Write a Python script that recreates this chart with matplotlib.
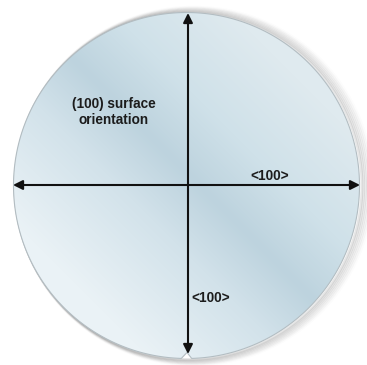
import numpy as np
import matplotlib
matplotlib.use("Agg")
import matplotlib.pyplot as plt
from matplotlib.path import Path
from matplotlib.patches import PathPatch, Circle
from matplotlib.colors import LinearSegmentedColormap

# ---- data (diagram, pixel coordinates of a 367x365 canvas) ----
wafer_center = (186.5, 185.5)
wafer_radius = 173.0
notch_depth = 6.0
h_arrow_x = [13, 360]
h_arrow_y = [185, 185]
v_arrow_x = [188, 188]
v_arrow_y = [13, 354]
labels = ["(100) surface\norientation", "<100>", "<100>"]
label_x = [114, 270, 211]
label_y = [112, 176, 298]

W, H = 367, 365
fig = plt.figure(figsize=(W / 100, H / 100), dpi=100)
ax = fig.add_axes([0, 0, 1, 1])
ax.set_xlim(0, W)
ax.set_ylim(H, 0)
ax.axis("off")

cx, cy = wafer_center
r = wafer_radius

# soft shadow on the right side
for i, a in enumerate(np.linspace(0.16, 0.02, 7)):
    ax.add_patch(Circle((cx + 2.0 + i * 0.9, cy + 0.5), r + 0.5 + i * 0.9,
                        facecolor="none", edgecolor=(0.40, 0.40, 0.40, a),
                        linewidth=2.0, zorder=1))

# wafer outline with notch
theta = np.linspace(np.pi / 2 + 0.03, np.pi / 2 + 2 * np.pi - 0.03, 600)
xs = cx + r * np.cos(theta)
ys = cy + r * np.sin(theta)
verts = list(zip(xs, ys))
verts.append((cx + 0.5, cy + r - notch_depth))
verts.append(verts[0])
codes = [Path.MOVETO] + [Path.LINETO] * (len(verts) - 2) + [Path.CLOSEPOLY]
wafer_path = Path(verts, codes)
patch = PathPatch(wafer_path, facecolor="none", edgecolor=(0.70, 0.74, 0.76),
                  linewidth=0.8, zorder=3)
ax.add_patch(patch)

# gradient fill
cmap = LinearSegmentedColormap.from_list(
    "wafer",
    [(0.0, "#eaf2f6"), (0.33, "#d2e2ea"), (0.52, "#bdd3de"),
     (0.72, "#cfe1e9"), (1.0, "#dfeaef")])
gx, gy = np.meshgrid(np.arange(W), np.arange(H))
t = (gx - gy)
t = (t + 210) / 430.0
t = np.clip(t, 0, 1)
img = ax.imshow(t, cmap=cmap, extent=(0, W, H, 0), zorder=2,
                interpolation="bilinear", vmin=0, vmax=1)
clip = PathPatch(wafer_path, transform=ax.transData, facecolor="none",
                 edgecolor="none")
ax.add_patch(clip)
img.set_clip_path(clip)

# arrows
arrow_kw = dict(arrowstyle="<|-|>", color="#111111", lw=1.5,
                mutation_scale=14, shrinkA=0, shrinkB=0)
ax.annotate("", xy=(h_arrow_x[1], h_arrow_y[1]), xytext=(h_arrow_x[0], h_arrow_y[0]),
            arrowprops=arrow_kw, zorder=5)
ax.annotate("", xy=(v_arrow_x[1], v_arrow_y[1]), xytext=(v_arrow_x[0], v_arrow_y[0]),
            arrowprops=arrow_kw, zorder=5)

for s, x, y in zip(labels, label_x, label_y):
    ax.text(x, y, s, ha="center", va="center", fontsize=9.8,
            family="Liberation Sans", color="#1c1c1c", linespacing=1.2,
            fontweight="semibold", zorder=6)

fig.savefig("out.png", dpi=100, facecolor="white")
